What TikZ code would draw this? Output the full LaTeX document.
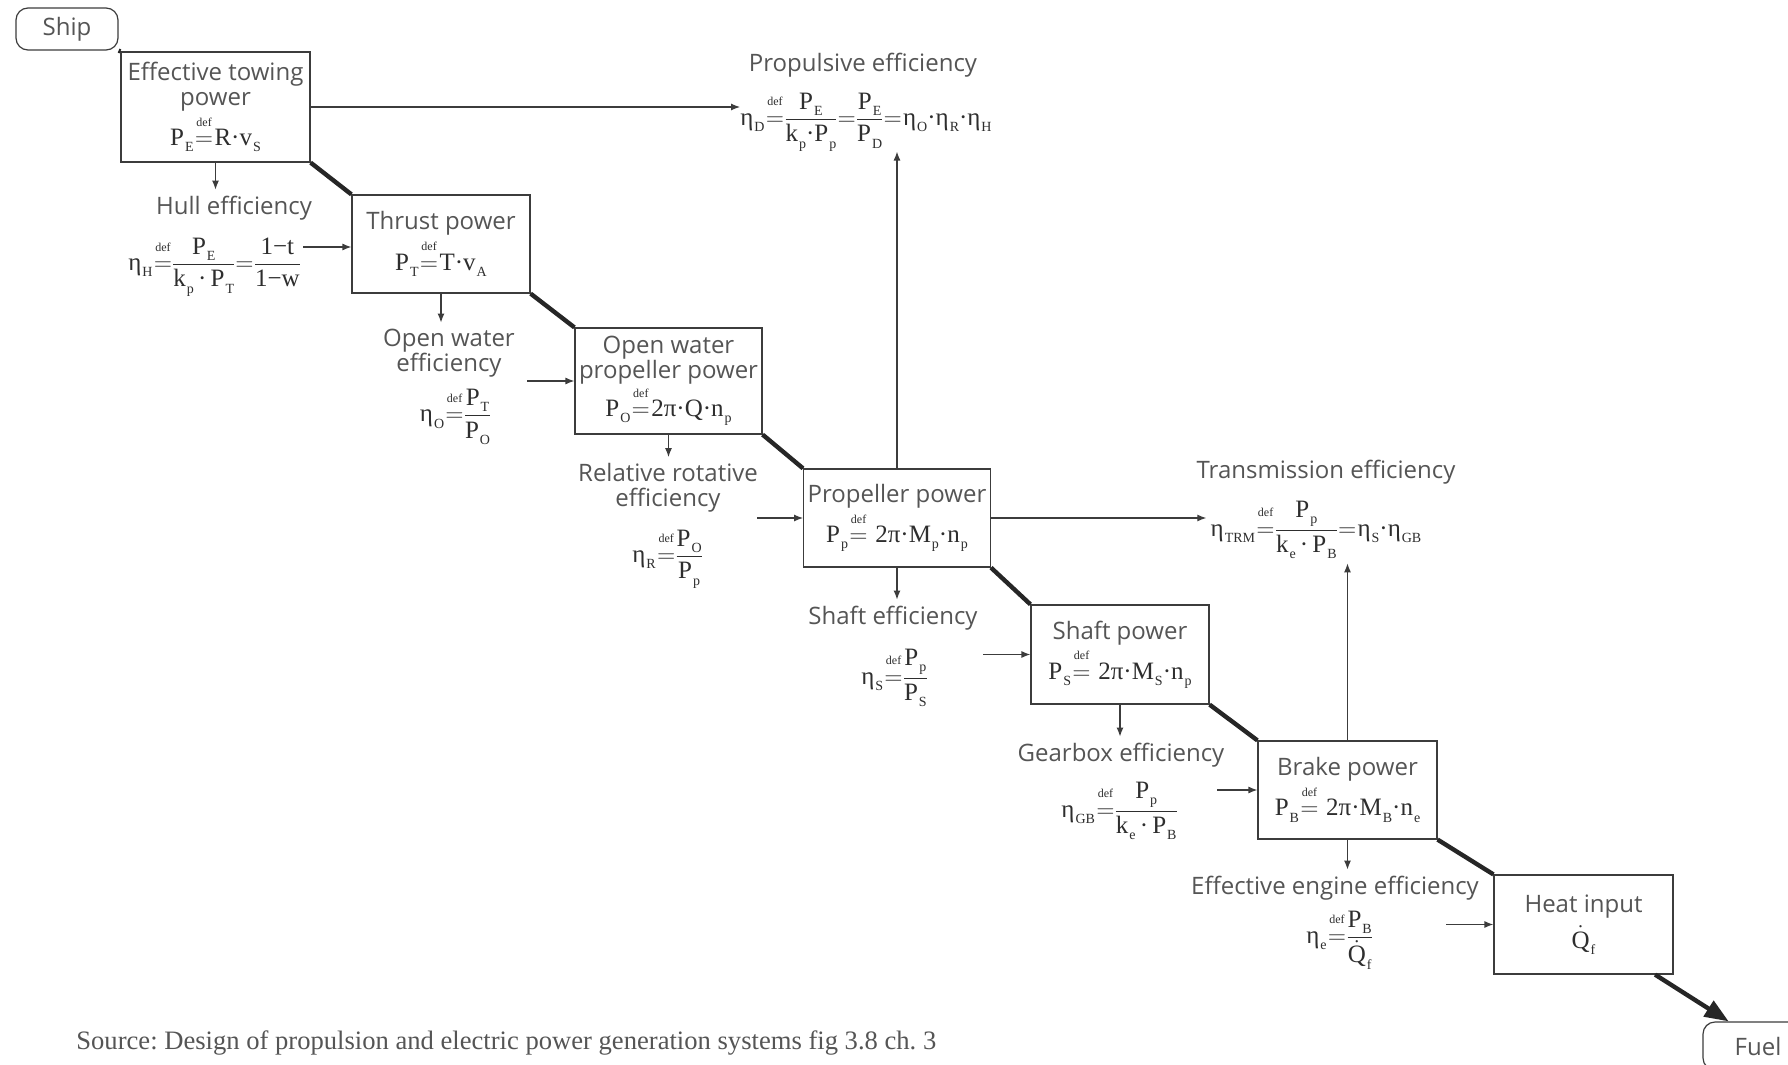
\documentclass[tikz,border=0pt]{standalone}
\usepackage{fontspec}
\usepackage{amsmath}
\usetikzlibrary{arrows.meta}
\setmainfont{Open Sans}
\newfontfamily\fm{Liberation Serif}
\definecolor{txt}{HTML}{555555}
\definecolor{fcol}{HTML}{2E2E2E}
\definecolor{ln}{HTML}{3C3C3C}
\frenchspacing
\thickmuskip=1mu\relax
\nulldelimiterspace=0pt\relax
\newcommand\lo[1]{\kern.04em\raisebox{-.55ex}{\fontsize{7}{7}\selectfont#1}}
\newcommand\dq{\mathrel{\overset{\text{\raisebox{3pt}{\fontsize{6}{6}\selectfont def}}}{=}}}
\newcommand\fr[2]{\dfrac{\text{#1}}{\text{#2}}}
\newcommand\eq[1]{{\fm\fontsize{12.5}{14}\selectfont\color{fcol}$#1$}}
\begin{document}
\begin{tikzpicture}[x=0.5pt,y=0.5pt,font=\fontsize{12}{12.5}\selectfont,text=txt,
  box/.style={draw=ln,line width=0.6pt,align=center,inner sep=2pt},
  term/.style={draw=ln,line width=0.6pt,rounded corners=6pt,inner sep=2pt},
  lab/.style={align=center,inner sep=3pt},
  frm/.style={inner sep=2pt,text=fcol,font=\fm\fontsize{12.5}{14}\selectfont},
  ar/.style={draw=ln,line width=0.6pt,-{Latex[length=4.5pt,width=3.5pt]}},
  flow/.style={draw=black!85,line width=2.2pt}]
\path[use as bounding box,fill=white] (0,0) rectangle (1788,-1065);
\clip (0,0) rectangle (1788,-1065);
\node[term,minimum width=51pt,minimum height=21pt] (ship) at (67,-29) {Ship};
\node[box,minimum width=94.5pt,minimum height=55pt] (eff) at (215.5,-107) {Effective towing\\power\\[1pt]\eq{\text{P\lo{E}}\dq\text{R·v\lo{S}}}};
\node[box,minimum width=89pt,minimum height=49pt] (thrust) at (441,-244) {Thrust power\\[1pt]\eq{\text{P\lo{T}}\dq\text{T·v\lo{A}}}};
\node[box,minimum width=93.5pt,minimum height=53pt] (ow) at (668.5,-381) {Open water\\propeller power\\[0pt]\eq{\text{P\lo{O}}\dq\text{2π·Q·n\lo{p}}}};
\node[box,minimum width=93pt,minimum height=49pt] (prop) at (897,-518) {Propeller power\\[1pt]\eq{\text{P\lo{p}}\dq\text{ 2π·M\lo{p}·n\lo{p}}}};
\node[box,minimum width=89pt,minimum height=49.5pt] (shaft) at (1120,-654.5) {Shaft power\\[1pt]\eq{\text{P\lo{S}}\dq\text{ 2π·M\lo{S}·n\lo{p}}}};
\node[box,minimum width=89.5pt,minimum height=49pt] (brake) at (1347.5,-790) {Brake power\\[1pt]\eq{\text{P\lo{B}}\dq\text{ 2π·M\lo{B}·n\lo{e}}}};
\node[box,minimum width=89.5pt,minimum height=49.5pt] (heat) at (1583.5,-924.5) {Heat input\\[3pt]\eq{\dot{\text{Q}}\text{\lo{f}}}};
\node[term,minimum width=55pt,minimum height=24pt] (fuel) at (1758,-1046) {Fuel};
\node[lab] (propt) at (863,-65) {Propulsive efficiency};
\node[frm,inner sep=0pt] (propf) at (866,-122) {$\text{η\lo{D}}\dq\fr{P\lo{E}}{k\lo{p}·P\lo{p}}=\fr{P\lo{E}}{P\lo{D}}=\text{η\lo{O}·η\lo{R}·η\lo{H}}$};
\node[lab] (hullt) at (234,-208) {Hull efficiency};
\node[frm] (hullf) at (214,-267) {$\text{η\lo{H}}\dq\fr{P\lo{E}}{k\lo{p}\,·\,P\lo{T}}=\fr{1−t}{1−w}$};
\node[lab] (owt) at (449,-353) {Open water\\efficiency};
\node[frm] (owf) at (455,-417) {$\text{η\lo{O}}\dq\fr{P\lo{T}}{P\lo{O}}$};
\node[lab] (rrt) at (668,-488) {Relative rotative\\efficiency};
\node[frm] (rrf) at (667,-559) {$\text{η\lo{R}}\dq\fr{P\lo{O}}{P\lo{p}}$};
\node[lab] (trt) at (1326,-472) {Transmission efficiency};
\node[frm] (trf) at (1316,-530) {$\text{η\lo{TRM}}\dq\fr{P\lo{p}}{k\lo{e}\,·\,P\lo{B}}=\text{η\lo{S}·η\lo{GB}}$};
\node[lab] (sht) at (893,-618) {Shaft efficiency};
\node[frm] (shf) at (894,-678) {$\text{η\lo{S}}\dq\fr{P\lo{p}}{P\lo{S}}$};
\node[lab] (gbt) at (1121,-755) {Gearbox efficiency};
\node[frm] (gbf) at (1119,-811) {$\text{η\lo{GB}}\dq\fr{P\lo{p}}{k\lo{e}\,·\,P\lo{B}}$};
\node[lab] (eet) at (1335,-888) {Effective engine efficiency};
\node[frm] (eef) at (1339,-940) {$\text{η\lo{e}}\dq\dfrac{\text{P\lo{B}}}{\dot{\text{Q}}\text{\lo{f}}}$};
\node[anchor=west,inner sep=0pt,text=txt,font=\fm\fontsize{13.3}{14}\selectfont] (src) at (76,-1043) {Source: Design of propulsion and electric power generation systems fig 3.8 ch. 3};
\coordinate (hullout) at (303,-247);
\coordinate (owout) at (527,-381);
\coordinate (rrout) at (757,-518);
\coordinate (shout) at (983,-654.5);
\coordinate (gbout) at (1217,-790);
\coordinate (eeout) at (1446,-924.5);
\draw[flow] (ship.south east) -- (eff.north west) (eff.south east) -- (thrust.north west) (thrust.south east) -- (ow.north west) (ow.south east) -- (prop.north west) (prop.south east) -- (shaft.north west) (shaft.south east) -- (brake.north west) (brake.south east) -- (heat.north west);
\draw[flow,-{Triangle[length=12pt,width=9pt]}] (heat.-35) -- (fuel.140);
\draw[ar] (eff.east) -- (eff.east -| propf.west);
\draw[ar] (eff.south) -- (eff.south |- hullt.north);
\draw[ar] (hullout) -- (hullout -| thrust.west);
\draw[ar] (thrust.south) -- (thrust.south |- owt.north);
\draw[ar] (owout) -- (ow.west);
\draw[ar] (ow.south) -- (ow.south |- rrt.north);
\draw[ar] (rrout) -- (prop.west);
\draw[ar] (prop.north) -- (prop.north |- propf.south);
\draw[ar] (prop.east) -- (prop.east -| trf.west);
\draw[ar] (prop.south) -- (prop.south |- sht.north);
\draw[ar] (shout) -- (shaft.west);
\draw[ar] (shaft.south) -- (shaft.south |- gbt.north);
\draw[ar] (gbout) -- (brake.west);
\draw[ar] (brake.north) -- (brake.north |- trf.south);
\draw[ar] (brake.south) -- (brake.south |- eet.north);
\draw[ar] (eeout) -- (heat.west);
\end{tikzpicture}
\end{document}
